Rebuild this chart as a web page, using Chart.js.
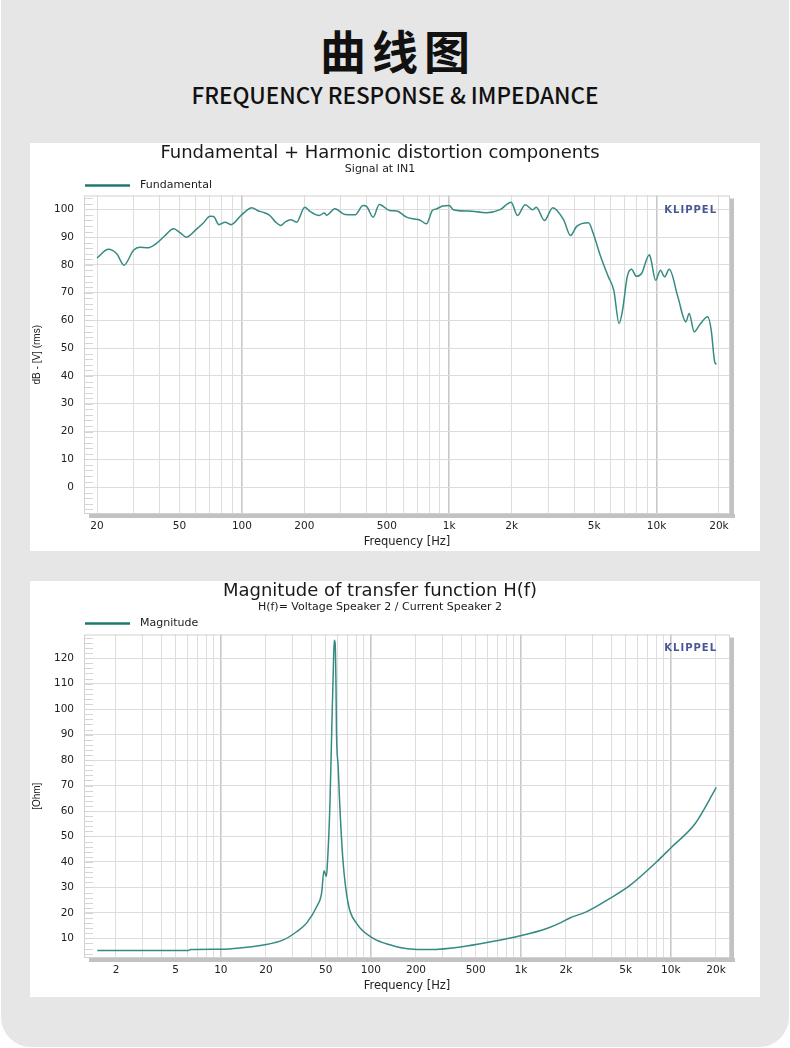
<!DOCTYPE html>
<html>
<head>
<meta charset="utf-8">
<script src="https://cdn.jsdelivr.net/npm/chart.js@4.4.1/dist/chart.umd.min.js"></script>
<style>
html, body { margin: 0; padding: 0; background: #fff; }
body { width: 790px; height: 1048px; position: relative; overflow: hidden; }
#card { position: absolute; left: 1px; top: 0; width: 788px; height: 1047px; background: #e6e6e6; border-radius: 0 0 30px 30px; }
#cn { position: absolute; left: 0; top: 26px; width: 790px; padding-left: 6px; box-sizing: border-box; text-align: center;
      font: 700 46px/46px "Noto Sans CJK SC"; letter-spacing: 6px; color: #111; }
#en { position: absolute; left: 0; top: 82px; width: 790px; text-align: center;
      font: 500 22.5px/24px "Noto Sans CJK SC"; color: #111; }
.panel { position: absolute; left: 30px; width: 730px; background: #fff; }
#p1 { top: 143px; height: 408px; }
#p2 { top: 581px; height: 416px; }
canvas { display: block; }
</style>
</head>
<body>
<div id="card"></div>
<div id="cn">曲线图</div>
<div id="en">FREQUENCY RESPONSE &amp; IMPEDANCE</div>
<div class="panel" id="p1"><canvas id="fund" width="730" height="408"></canvas></div>
<div class="panel" id="p2"><canvas id="imp" width="730" height="416"></canvas></div>

<script>
// fundamental (dB)
var fundFreq = [20, 22.7, 24.9, 27, 30, 32.2, 35.3, 38.6, 42.5, 46.8,
    50.5, 54, 60.6, 65, 70.2, 73, 77.5, 82.9, 88.6, 98.9,
    105, 111.6, 118.7, 126, 136.4, 145, 154, 162, 171.7, 183.6,
    201, 212, 236, 250, 256, 281, 314, 352, 384, 400,
    430, 460, 516, 560, 623, 670, 720, 777, 829, 870,
    930, 1000, 1047, 1240, 1517, 1760, 1990, 2133, 2326, 2530,
    2630, 2880, 3160, 3560, 3850, 4120, 4700, 4930, 5350, 5860,
    6220, 6600, 6860, 7220, 7570, 8000, 8470, 9240, 9400, 9900,
    10450, 10930, 11530, 12680, 13850, 14370, 15200, 16100, 17660, 18360,
    19080, 19460];
var fundDb = [82.5, 85.6, 84.0, 79.9, 85.3, 86.4, 86.2, 87.7, 90.5, 93.0,
    91.5, 90.0, 93.0, 95.0, 97.5, 97.4, 94.5, 95.4, 94.5, 97.8,
    99.5, 100.6, 99.6, 99.0, 97.8, 95.5, 94.2, 95.5, 96.3, 95.4,
    100.8, 99.4, 97.8, 98.7, 97.9, 100.2, 98.2, 98.1, 101.4, 101.0,
    97.2, 101.8, 99.6, 99.4, 97.2, 96.6, 96.2, 94.8, 99.6, 100.2,
    101.2, 101.4, 99.9, 99.4, 98.8, 99.9, 102.6, 97.8, 101.7, 99.9,
    100.8, 96.0, 100.6, 96.3, 90.6, 93.9, 95.2, 91.8, 83.5, 75.7,
    70.9, 58.9, 63.7, 75.7, 78.4, 75.9, 76.9, 83.7, 82.0, 74.5,
    78.1, 75.7, 78.4, 68.5, 59.5, 62.5, 55.9, 58.3, 61.3, 56.5,
    45.1, 44.2];

// impedance magnitude (Ohm)
var impFreq = [1.5, 3, 6, 6.3, 10, 13.4, 19.2, 26.1, 32, 37.4,
    43.7, 47, 48.7, 50.5, 51.2, 53.4, 55, 56.2, 57, 57.8,
    58.6, 59, 60.6, 62, 65.2, 70.6, 80.4, 104, 134, 182,
    245, 435, 721, 1043, 1490, 1850, 2120, 2730, 3900, 5340,
    8030, 10100, 14500, 20100];
var impOhm = [5.2, 5.2, 5.2, 5.6, 5.7, 6.2, 7.4, 9.4, 12.6, 16.1,
    22.6, 27.9, 36.6, 34.3, 38.0, 63.0, 94.3, 115.2, 127.0, 126.0,
    108.6, 91.7, 77.3, 63.0, 40.6, 23.7, 15.9, 10.0, 7.5, 5.8,
    5.6, 7.0, 9.3, 11.3, 13.9, 16.2, 18.0, 20.4, 25.6, 30.8,
    40.0, 45.8, 55.0, 69.3];

var dbTicks = [0, 10, 20, 30, 40, 50, 60, 70, 80, 90, 100];
var ohmTicks = [10, 20, 30, 40, 50, 60, 70, 80, 90, 100, 110, 120];
var freqLabels = [2, 5, 10, 20, 50, 100, 200, 500, 1000, 2000, 5000, 10000, 20000];
var decades = [1, 10, 100, 1000, 10000];

var lineColor = '#358a82';

function points(xs, ys) {
    return xs.map(function (x, i) { return { x: x, y: ys[i] }; });
}

function fmtHz(v) {
    return v >= 1000 ? (v / 1000) + 'k' : String(v);
}

// gridlines on every 1..9 multiple, like the measurement software
function logGrid(scale) {
    var t = [];
    decades.forEach(function (d) {
        for (var m = 1; m <= 9; m++) {
            var v = m * d;
            if (v >= scale.min && v <= scale.max) t.push({ value: v });
        }
    });
    scale.ticks = t;
}

var framePlugin = {
    id: 'frame',
    beforeDatasetsDraw: function (chart, args, opts) {
        var ctx = chart.ctx, a = chart.chartArea, y = chart.scales.y;
        ctx.save();
        ctx.strokeStyle = '#d6d6d6';
        ctx.lineWidth = 1;
        for (var v = Math.ceil(y.min / opts.minor) * opts.minor; v <= y.max; v += opts.minor) {
            var py = Math.round(y.getPixelForValue(v)) + 0.5;
            ctx.beginPath();
            ctx.moveTo(a.left, py);
            ctx.lineTo(a.left + 9, py);
            ctx.stroke();
        }
        ctx.restore();
    },
    afterDraw: function (chart, args, opts) {
        var ctx = chart.ctx, a = chart.chartArea;
        ctx.save();
        // shadow + frame
        ctx.fillStyle = '#c2c2c2';
        ctx.fillRect(a.right, a.top + 3, 4, a.bottom - a.top + 1);
        ctx.fillRect(a.left + 5, a.bottom, a.right - a.left, 4);
        ctx.strokeStyle = '#d2d2d2';
        ctx.strokeRect(a.left + 0.5, a.top + 0.5, a.right - a.left - 1, a.bottom - a.top - 1);
        // KLIPPEL mark
        ctx.fillStyle = '#4a5796';
        ctx.font = 'bold 10px "DejaVu Sans"';
        ctx.letterSpacing = '1px';
        ctx.textAlign = 'right';
        ctx.textBaseline = 'middle';
        ctx.fillText('KLIPPEL', a.right - 13, a.top + opts.markY);
        ctx.letterSpacing = '0px';
        // legend
        var ly = a.top - opts.legendGap;
        ctx.strokeStyle = '#1e7a70';
        ctx.lineWidth = 2.5;
        ctx.beginPath();
        ctx.moveTo(a.left + 1, ly);
        ctx.lineTo(a.left + 46, ly);
        ctx.stroke();
        ctx.fillStyle = '#1a1a1a';
        ctx.font = '11px "DejaVu Sans"';
        ctx.textAlign = 'left';
        ctx.fillText(chart.data.datasets[0].label, a.left + 56, ly);
        ctx.restore();
    }
};

function makeChart(id, cfg) {
    return new Chart(document.getElementById(id), {
        type: 'line',
        data: {
            datasets: [{
                label: cfg.label,
                data: cfg.data,
                borderColor: lineColor,
                borderWidth: 1.5,
                pointRadius: 0,
                fill: false,
                cubicInterpolationMode: 'monotone'
            }]
        },
        options: {
            responsive: false,
            animation: false,
            events: [],
            layout: { padding: { top: 0, right: 30, bottom: 0, left: 0 } },
            plugins: {
                legend: { display: false },
                tooltip: { enabled: false },
                title: {
                    display: true, text: cfg.title, color: '#1a1a1a',
                    font: { family: 'DejaVu Sans', size: 18, weight: 'normal', lineHeight: 1 },
                    padding: { top: 1.5, bottom: 0 }
                },
                subtitle: {
                    display: true, text: cfg.subtitle, color: '#1a1a1a',
                    font: { family: 'DejaVu Sans', size: 11, lineHeight: 1 },
                    padding: { top: 1.5, bottom: cfg.gap }
                },
                frame: { minor: 2, legendGap: cfg.legendGap, markY: cfg.markY }
            },
            scales: {
                x: {
                    type: 'logarithmic',
                    min: cfg.xmin, max: cfg.xmax,
                    afterBuildTicks: logGrid,
                    afterFit: function (s) { s.height = cfg.xh; },
                    border: { display: false },
                    grid: {
                        drawTicks: false,
                        color: function (c) { return decades.indexOf(c.tick.value) >= 0 ? '#c8c8c8' : '#dedede'; },
                        lineWidth: function (c) { return decades.indexOf(c.tick.value) >= 0 ? 1.6 : 1; }
                    },
                    ticks: {
                        autoSkip: false, maxRotation: 0, padding: 6, color: '#222',
                        font: { family: 'DejaVu Sans', size: 10.5 },
                        callback: function (v) { return freqLabels.indexOf(v) >= 0 ? fmtHz(v) : ''; }
                    },
                    title: {
                        display: true, text: 'Frequency [Hz]', color: '#222',
                        font: { family: 'DejaVu Sans', size: 11.5 },
                        padding: { top: 0, bottom: cfg.xtPad }
                    }
                },
                y: {
                    min: cfg.ymin, max: cfg.ymax,
                    afterBuildTicks: function (s) { s.ticks = cfg.yticks.map(function (v) { return { value: v }; }); },
                    afterFit: function (s) { s.width = 54; },
                    border: { display: false },
                    grid: { drawTicks: false, color: '#dcdcdc' },
                    ticks: { padding: 10, color: '#222', font: { family: 'DejaVu Sans', size: 10.5 } },
                    title: {
                        display: true, text: cfg.ytitle, color: '#222',
                        font: { family: 'Liberation Sans', size: 10 },
                        padding: { top: 1, bottom: 0 }
                    }
                }
            }
        },
        plugins: [framePlugin]
    });
}

makeChart('fund', {
    label: 'Fundamental',
    data: points(fundFreq, fundDb),
    title: 'Fundamental + Harmonic distortion components',
    subtitle: 'Signal at IN1',
    gap: 20.5, legendGap: 10, markY: 15,
    xmin: 17.31, xmax: 22620, xh: 37, xtPad: 1.8,
    ymin: -9.7, ymax: 105, yticks: dbTicks,
    ytitle: 'dB - [V] (rms)'
});

makeChart('imp', {
    label: 'Magnitude',
    data: points(impFreq, impOhm),
    title: 'Magnitude of transfer function H(f)',
    subtitle: 'H(f)= Voltage Speaker 2 / Current Speaker 2',
    gap: 21.5, legendGap: 11, markY: 14,
    xmin: 1.224, xmax: 24800, xh: 39, xtPad: 3.8,
    ymin: 2.3, ymax: 129.3, yticks: ohmTicks,
    ytitle: '[Ohm]'
});
</script>
</body>
</html>
